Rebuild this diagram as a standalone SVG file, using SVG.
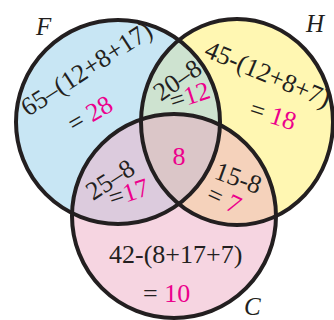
<svg xmlns="http://www.w3.org/2000/svg" width="334" height="320" viewBox="0 0 334 320">
<style>
.t{font-family:"Liberation Serif",serif;font-size:26px;fill:#231f20}
.m{fill:#ec008c}
.lab{font-family:"Liberation Serif",serif;font-size:25px;font-style:italic;fill:#231f20}
.ring{fill:none;stroke:#231f20;stroke-width:4}
</style>
<defs>
<circle id="cF" cx="118" cy="122" r="102"/>
<ellipse id="cH" cx="237" cy="122" rx="96" ry="103"/>
<circle id="cC" cx="174" cy="216" r="102"/>
<clipPath id="clipF"><use href="#cF"/></clipPath>
<clipPath id="clipH"><use href="#cH"/></clipPath>
</defs>
<rect width="334" height="320" fill="#ffffff"/>
<g id="fills">
<use href="#cF" fill="#c8e6f4"/>
<use href="#cH" fill="#fff7b2"/>
<use href="#cC" fill="#f6d5e1"/>
<use href="#cH" fill="#cee3d0" clip-path="url(#clipF)"/>
<use href="#cC" fill="#dccbdd" clip-path="url(#clipF)"/>
<use href="#cC" fill="#f5d2bb" clip-path="url(#clipH)"/>
<g clip-path="url(#clipF)"><use href="#cC" fill="#dbc6c8" clip-path="url(#clipH)"/></g>
</g>
<g id="node-F">
<use href="#cF" class="ring"/>
<text class="lab" x="36" y="35">F</text>
<text class="t" transform="translate(28,117) rotate(-33)">65–(12+8+17)</text>
<text class="t" transform="translate(74,133) rotate(-30)">= <tspan class="m">28</tspan></text>
</g>
<g id="node-H">
<use href="#cH" class="ring"/>
<text class="lab" x="306" y="32">H</text>
<text class="t" transform="translate(203,56) rotate(23)">45-(12+8+7)</text>
<text class="t" transform="translate(248,116) rotate(18)">= <tspan class="m">18</tspan></text>
</g>
<g id="node-C">
<use href="#cC" class="ring"/>
<text class="lab" x="244" y="315">C</text>
<text class="t" x="109" y="263">42-(8+17+7)</text>
<text class="t" x="143" y="302">= <tspan class="m">10</tspan></text>
</g>
<g id="node-FH">
<text class="t" transform="translate(161,102) rotate(-35)">20–8</text>
<text class="t" transform="translate(173,110) rotate(-18)">=<tspan class="m">12</tspan></text>
</g>
<g id="node-FC">
<text class="t" transform="translate(93,201) rotate(-33)">25–8</text>
<text class="t" transform="translate(112,207) rotate(-18)">=<tspan class="m">17</tspan></text>
</g>
<g id="node-HC">
<text class="t" transform="translate(213,178) rotate(20)">15-8</text>
<text class="t" transform="translate(205,200) rotate(25)">= <tspan class="m">7</tspan></text>
</g>
<g id="node-FHC">
<text class="t m" x="179" y="165" text-anchor="middle">8</text>
</g>
<g id="connectors"></g>
</svg>
